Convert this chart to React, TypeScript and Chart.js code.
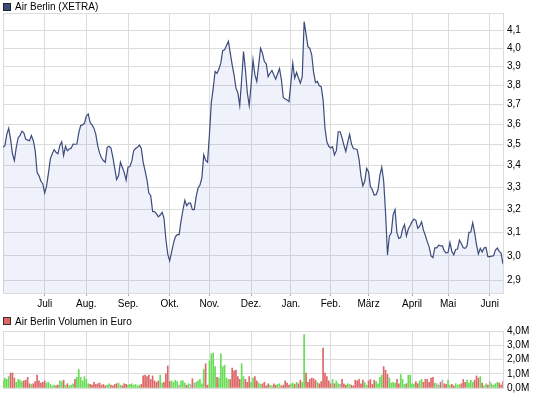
import React, { useEffect, useRef } from "react";
import { Chart, registerables } from "chart.js";

Chart.register(...registerables);

const monthLabels = ["Juli", "Aug.", "Sep.", "Okt.", "Nov.", "Dez.", "Jan.", "Feb.", "März", "April", "Mai", "Juni"];
const monthStartIdx = [22, 44, 66, 88, 109, 131, 152, 173, 193, 216, 235, 257];
const priceTicks = [2.9, 3.0, 3.1, 3.2, 3.3, 3.4, 3.5, 3.6, 3.7, 3.8, 3.9, 4.0, 4.1];
const volumeTicks = [0, 1, 2, 3, 4];

const closePrices = [
  3.487, 3.495, 3.55, 3.58, 3.527, 3.456, 3.424, 3.487, 3.534, 3.545,
  3.566, 3.558, 3.527, 3.522, 3.519, 3.545, 3.519, 3.471, 3.368, 3.352,
  3.327, 3.316, 3.273, 3.306, 3.365, 3.432, 3.456, 3.476, 3.463, 3.456,
  3.495, 3.514, 3.448, 3.492, 3.471, 3.479, 3.483, 3.503, 3.502, 3.503,
  3.558, 3.594, 3.597, 3.605, 3.641, 3.652, 3.609, 3.597, 3.581, 3.55,
  3.495, 3.459, 3.437, 3.424, 3.416, 3.487, 3.492, 3.484, 3.44, 3.387,
  3.335, 3.352, 3.416, 3.392, 3.368, 3.332, 3.392, 3.395, 3.421, 3.471,
  3.481, 3.487, 3.498, 3.483, 3.416, 3.376, 3.335, 3.273, 3.261, 3.191,
  3.19, 3.181, 3.167, 3.175, 3.187, 3.162, 3.07, 3.008, 2.98, 3.015,
  3.053, 3.081, 3.09, 3.09, 3.148, 3.196, 3.24, 3.216, 3.228, 3.228,
  3.199, 3.199, 3.258, 3.296, 3.31, 3.343, 3.451, 3.424, 3.416, 3.55,
  3.711, 3.785, 3.873, 3.864, 3.886, 3.918, 3.987, 3.991, 4.015, 4.038,
  3.973, 3.909, 3.855, 3.785, 3.761, 3.695, 3.829, 3.982, 3.882, 3.761,
  3.695, 3.802, 3.936, 3.855, 3.82, 3.909, 4.0, 3.973, 3.927, 3.915,
  3.846, 3.864, 3.879, 3.855, 3.832, 3.861, 3.889, 3.829, 3.736, 3.728,
  3.723, 3.715, 3.811, 3.918, 3.838, 3.868, 3.838, 3.811, 3.846, 4.15,
  4.08, 4.009, 4.0, 3.964, 3.868, 3.814, 3.82, 3.797, 3.793, 3.725,
  3.581, 3.514, 3.492, 3.484, 3.49, 3.451, 3.471, 3.563, 3.563, 3.534,
  3.498, 3.467, 3.511, 3.55, 3.503, 3.481, 3.479, 3.476, 3.429, 3.352,
  3.306, 3.327, 3.387, 3.371, 3.303, 3.288, 3.264, 3.266, 3.288, 3.355,
  3.392, 3.327, 3.184, 3.004, 3.084, 3.097, 3.177, 3.199, 3.097, 3.074,
  3.077, 3.114, 3.133, 3.084, 3.114, 3.129, 3.146, 3.157, 3.152, 3.117,
  3.126, 3.145, 3.109, 3.086, 3.06, 3.038, 3.0, 2.993, 3.034, 3.034,
  3.045, 3.042, 3.042, 3.021, 3.012, 3.015, 3.056, 3.018, 3.005, 3.027,
  3.029, 3.066, 3.052, 3.034, 3.032, 3.042, 3.1, 3.101, 3.141, 3.1,
  3.047, 3.008, 3.032, 3.016, 3.033, 3.036, 2.997, 2.997, 2.999, 3.001,
  3.025, 3.033, 3.019, 3.012, 2.966,
];

// Volume in millions of euro
const volumesM = [
  0.5, 0.7, 0.6, 0.8, 1.05, 1.05, 0.7, 0.4, 0.6, 0.55,
  0.45, 0.5, 0.55, 0.75, 0.3, 0.25, 0.3, 0.45, 0.9, 0.5,
  0.35, 0.4, 0.5, 0.35, 0.4, 0.25, 0.15, 0.2, 0.15, 0.2,
  0.5, 0.45, 0.55, 0.2, 0.3, 0.15, 0.2, 0.3, 0.6, 0.75,
  1.3, 0.75, 0.5, 0.8, 0.6, 0.3, 0.25, 0.2, 0.4, 0.25,
  0.3, 0.35, 0.2, 0.25, 0.15, 0.2, 0.3, 0.2, 0.15, 0.25,
  0.3, 0.35, 0.2, 0.15, 0.3, 0.25, 0.2, 0.25, 0.3, 0.2,
  0.25, 0.15, 0.2, 0.25, 0.85, 0.9, 0.8, 0.9, 0.6, 0.85,
  0.5, 0.4, 0.5, 0.9, 0.35, 0.4, 1.0, 1.55, 0.45, 0.5,
  0.4, 0.55, 0.45, 0.2, 0.5, 0.5, 0.35, 0.2, 0.3, 0.25,
  0.65, 0.35, 0.4, 0.5, 0.6, 0.3, 1.3, 1.7, 0.2, 1.9,
  2.4, 2.45, 1.5, 0.75, 0.7, 2.4, 1.5, 1.6, 0.7, 0.6,
  0.6, 1.4, 1.2, 1.25, 0.8, 0.6, 1.7, 0.8, 0.6, 0.4,
  0.8, 0.4, 0.7, 0.8, 0.5, 0.35, 0.25, 0.3, 0.4, 0.15,
  0.3, 0.2, 0.15, 0.3, 0.2, 0.25, 0.3, 0.15, 0.2, 0.5,
  0.35, 0.2, 0.3, 0.35, 0.25, 0.4, 0.3, 0.55, 0.4, 3.75,
  1.05, 0.4, 0.6, 0.7, 0.65, 0.55, 0.4, 0.3, 0.45, 2.8,
  1.05, 0.8, 0.5, 0.3, 0.6, 0.3, 0.5, 0.3, 0.25, 0.6,
  0.3, 0.2, 0.3, 0.25, 0.2, 0.15, 0.55, 0.5, 0.6, 0.3,
  0.55, 0.4, 0.2, 0.5, 0.6, 0.25, 0.55, 0.45, 0.3, 0.75,
  0.9, 1.5, 1.25, 0.95, 0.7, 0.35, 0.4, 0.35, 0.6, 0.3,
  0.95, 0.6, 0.25, 0.3, 0.9, 0.9, 0.3, 0.3, 0.45, 0.3,
  0.5, 0.6, 0.4, 0.6, 0.6, 0.4, 0.7, 0.75, 0.35, 0.3,
  0.2, 0.4, 0.55, 0.3, 0.25, 0.55, 0.2, 0.25, 0.15, 0.3,
  0.2, 0.25, 0.3, 0.6, 0.4, 0.55, 0.35, 0.55, 0.4, 0.55,
  0.85, 0.7, 0.8, 0.35, 0.15, 0.3, 0.2, 0.45, 0.3, 0.2,
  0.3, 0.4, 0.35, 0.2, 0.45,
];

const FONT = "'Liberation Sans', Arial, sans-serif";
const GRID = "#dcdcdc";
const LINE = "#3b4b7b";
const UP = "#66dd55";
const DOWN = "#dd6666";
const FLAT = "#b0b0b0";

const framePlugin = {
  id: "frame",
  beforeDatasetsDraw(chart: any) {
    const { ctx, chartArea: a } = chart;
    ctx.save();
    ctx.strokeStyle = GRID;
    ctx.lineWidth = 1;
    ctx.strokeRect(Math.floor(a.left) + 0.5, Math.floor(a.top) + 0.5, Math.round(a.right - a.left), Math.round(a.bottom - a.top));
    ctx.restore();
  },
};

const lastIdx = closePrices.length - 1;

function monthTickLabel(v: any) {
  const k = monthStartIdx.indexOf(Number(v));
  return k >= 0 ? monthLabels[k] : "";
}

export default function App() {
  const priceRef = useRef<HTMLCanvasElement | null>(null);
  const volRef = useRef<HTMLCanvasElement | null>(null);

  useEffect(() => {
    Chart.defaults.font.family = FONT;
    Chart.defaults.font.size = 10;
    Chart.defaults.color = "#000";

    const priceChart = new Chart(priceRef.current as HTMLCanvasElement, {
      type: "line",
      data: {
        datasets: [
          {
            data: closePrices.map((v, i) => ({ x: i, y: v })),
            borderColor: LINE,
            borderWidth: 1.2,
            backgroundColor: "rgba(60, 90, 200, 0.08)",
            fill: "start",
            pointRadius: 0,
            tension: 0,
          },
        ],
      },
      options: {
        responsive: false,
        animation: false,
        events: [],
        layout: { padding: { left: 3, top: 13, right: 0, bottom: 0 } },
        plugins: { legend: { display: false }, tooltip: { enabled: false } },
        scales: {
          x: {
            type: "linear",
            min: 0,
            max: lastIdx,
            bounds: "data",
            afterBuildTicks: (s: any) => {
              s.ticks = monthStartIdx.map((v) => ({ value: v }));
            },
            afterFit: (s: any) => {
              s.height = 20;
            },
            ticks: { autoSkip: false, maxRotation: 0, padding: 2, callback: monthTickLabel, color: "#000" },
            grid: { color: GRID, tickLength: 3, tickColor: "#a8a8a8" },
            border: { display: false },
          },
          y: {
            type: "logarithmic",
            position: "right",
            min: 2.85,
            max: 4.2,
            bounds: "data",
            afterBuildTicks: (s: any) => {
              s.ticks = priceTicks.map((v) => ({ value: v }));
            },
            afterFit: (s: any) => {
              s.width = 42;
            },
            ticks: { padding: 4, callback: (v: any) => Number(v).toFixed(1).replace(".", ","), color: "#000" },
            grid: { color: GRID, drawTicks: false },
            border: { display: false },
          },
        },
      } as any,
      plugins: [framePlugin],
    });

    const barColors = volumesM.map((_, i) => {
      if (i === 0) return UP;
      const d = closePrices[i] - closePrices[i - 1];
      return d > 0 ? UP : d < 0 ? DOWN : FLAT;
    });

    const volChart = new Chart(volRef.current as HTMLCanvasElement, {
      type: "bar",
      data: {
        datasets: [
          {
            data: volumesM.map((v, i) => ({ x: i, y: v })),
            backgroundColor: barColors,
            barThickness: 1,
            grouped: false,
            borderWidth: 0,
          } as any,
        ],
      },
      options: {
        responsive: false,
        animation: false,
        events: [],
        layout: { padding: { left: 3, top: 18, right: 0, bottom: 7 } },
        plugins: { legend: { display: false }, tooltip: { enabled: false } },
        scales: {
          x: {
            type: "linear",
            min: 0,
            max: lastIdx,
            bounds: "data",
            offset: false,
            afterBuildTicks: (s: any) => {
              s.ticks = monthStartIdx.map((v) => ({ value: v }));
            },
            afterFit: (s: any) => {
              s.height = 0;
            },
            ticks: { display: false },
            grid: { color: GRID, drawTicks: false, offset: false },
            border: { display: false },
          },
          y: {
            type: "linear",
            position: "right",
            min: 0,
            max: 4,
            bounds: "data",
            afterBuildTicks: (s: any) => {
              s.ticks = volumeTicks.map((v) => ({ value: v }));
            },
            afterFit: (s: any) => {
              s.width = 42;
            },
            ticks: { padding: 4, callback: (v: any) => Number(v).toFixed(1).replace(".", ",") + "M", color: "#000" },
            grid: { color: GRID, drawTicks: false },
            border: { display: false },
          },
        },
      } as any,
      plugins: [framePlugin],
    });

    return () => {
      priceChart.destroy();
      volChart.destroy();
    };
  }, []);

  const legendText: React.CSSProperties = {
    position: "absolute",
    fontFamily: FONT,
    fontSize: 10,
    lineHeight: "13px",
    color: "#000",
    whiteSpace: "nowrap",
  };

  return (
    <div style={{ position: "absolute", left: 0, top: 0, width: 545, height: 398, background: "#fff", overflow: "hidden" }}>
      <canvas ref={priceRef} width={545} height={313} style={{ position: "absolute", left: 0, top: 0 }} />
      <canvas ref={volRef} width={545} height={85} style={{ position: "absolute", left: 0, top: 313 }} />
      <div style={{ position: "absolute", left: 3, top: 3, width: 6, height: 6, background: LINE, border: "1px solid #222" }} />
      <div style={{ ...legendText, left: 15, top: 0 }}>Air Berlin (XETRA)</div>
      <div style={{ position: "absolute", left: 3, top: 317, width: 6, height: 6, background: "#e06666", border: "1px solid #333" }} />
      <div style={{ ...legendText, left: 15, top: 315 }}>Air Berlin Volumen in Euro</div>
    </div>
  );
}
